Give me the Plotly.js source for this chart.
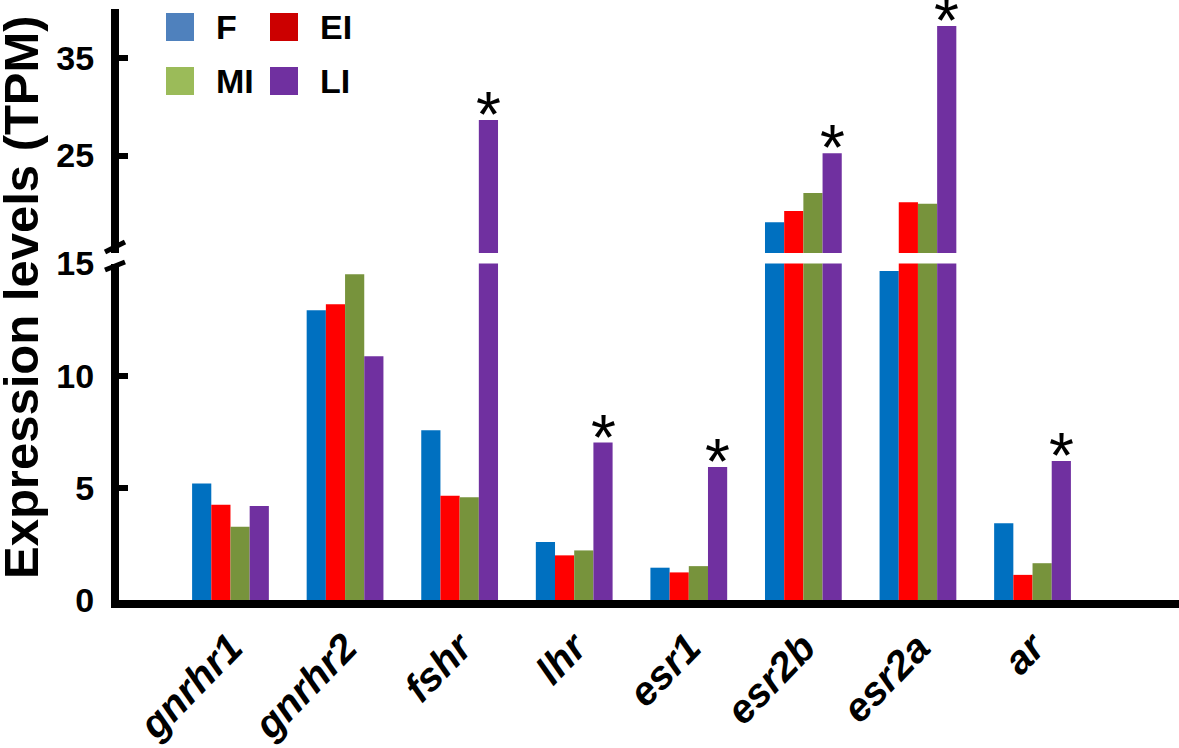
<!DOCTYPE html>
<html>
<head>
<meta charset="utf-8">
<script src="https://cdn.plot.ly/plotly-3.0.1.min.js"></script>
<style>html,body{margin:0;padding:0;background:#fff;}#chart{width:1179px;height:748px;}</style>
</head>
<body>
<div id="chart"></div>
<script>
// ---- data ----
const genes = ['gnrhr1', 'gnrhr2', 'fshr', 'lhr', 'esr1', 'esr2b', 'esr2a', 'ar'];
const seriesNames = ['F', 'EI', 'MI', 'LI'];
const valuesF  = [5.19, 12.92, 7.57, 2.58, 1.44, 18.15, 14.67, 3.42];
const valuesEI = [4.25, 13.18, 4.65, 1.99, 1.23, 19.31, 20.20, 1.12];
const valuesMI = [3.27, 14.52, 4.58, 2.21, 1.51, 21.15, 20.06, 1.64];
const valuesLI = [4.19, 10.87, 28.64, 7.02, 5.93, 25.23, 38.28, 6.20];
const significantLI = [false, false, true, true, true, true, true, true];
const lowerTicks = [0, 5, 10, 15];
const upperTicks = [25, 35];

// ---- styles ----
const barColors = ['#0070C0', '#FF0000', '#77933C', '#7030A0'];
const legendColors = ['#4F81BD', '#CC0000', '#9BBB59', '#7030A0'];
const FONT = 'Arial, "Liberation Sans", sans-serif';
const BREAK = 15, UPPER_MAX = 40.03;
const W = 1179, H = 748;
const M = {l: 119, r: 0, t: 9, b: 148};
const PW = W - M.l - M.r, PH = H - M.t - M.b;
const px = x => (x - M.l) / PW;           // pixel -> paper x
const py = y => (H - M.b - y) / PH;       // pixel -> paper y
const BARGAP = 0.33;

const allValues = [valuesF, valuesEI, valuesMI, valuesLI];
const traces = [];
allValues.forEach((vals, i) => {
  ['y', 'y2'].forEach(ax => {
    traces.push({
      type: 'bar', x: genes, y: vals, name: seriesNames[i],
      xaxis: 'x', yaxis: ax, showlegend: false, hoverinfo: 'x+y+name',
      marker: {color: barColors[i], line: {width: 0}}
    });
  });
});

// asterisks above LI bars
const groupW = 1 - BARGAP, barW = groupW / 4;
const annotations = [];
genes.forEach((g, i) => {
  if (!significantLI[i]) return;
  const v = valuesLI[i];
  annotations.push({
    x: i + 1.5 * barW, y: v, xref: 'x', yref: v > BREAK ? 'y2' : 'y',
    text: '*', showarrow: false, xanchor: 'center', yanchor: 'bottom',
    yshift: -33, font: {family: FONT, size: 64, color: '#000'}
  });
});

// y axis title
annotations.push({
  xref: 'paper', yref: 'paper', x: px(21), y: py(297), text: 'Expression levels (TPM)',
  textangle: -90, showarrow: false, xanchor: 'center', yanchor: 'middle',
  font: {family: FONT, size: 49, weight: 'bold', color: '#000'}
});

// custom legend (2 x 2)
const shapes = [];
const legPos = [[166, 13], [270, 13], [166, 67], [270, 67]];
seriesNames.forEach((n, i) => {
  const [lx, ly] = legPos[i];
  shapes.push({type: 'rect', xref: 'paper', yref: 'paper',
    x0: px(lx), x1: px(lx + 28), y0: py(ly + 28), y1: py(ly),
    fillcolor: legendColors[i], line: {width: 0}});
  annotations.push({xref: 'paper', yref: 'paper', x: px(lx + 48), y: py(ly + 14),
    text: n, showarrow: false, xanchor: 'left', yanchor: 'middle',
    font: {family: FONT, size: 34, weight: 'bold', color: '#000'}});
});

// axis break marks
shapes.push({type: 'line', xref: 'paper', yref: 'paper', x0: px(105), y0: py(252), x1: px(125), y1: py(242), line: {color: '#000', width: 5}});
shapes.push({type: 'line', xref: 'paper', yref: 'paper', x0: px(105), y0: py(270), x1: px(125), y1: py(262), line: {color: '#000', width: 5}});

const lowerTop = py(263.5), upperBottom = py(253);
const yCommon = {
  showline: true, linewidth: 8, linecolor: '#000', showgrid: false, zeroline: false,
  ticks: 'inside', ticklen: 9, tickwidth: 6, tickcolor: '#000',
  tickfont: {family: FONT, size: 34, weight: 'bold', color: '#000'},
  ticklabelstandoff: 10, tickmode: 'array', fixedrange: true
};

const layout = {
  width: W, height: H, margin: M, paper_bgcolor: '#fff', plot_bgcolor: 'rgba(0,0,0,0)',
  barmode: 'group', bargap: BARGAP, bargroupgap: 0, showlegend: false,
  xaxis: {
    type: 'category', anchor: 'y', range: [-(230.5 - M.l) / 114.6, 7 + (W - 1032.5) / 114.6],
    showline: true, linewidth: 8, linecolor: '#000', showgrid: false, ticks: '',
    tickangle: -46, ticklabelstandoff: 0,
    tickfont: {family: FONT, size: 40, weight: 'bold', style: 'italic', color: '#000'}
  },
  yaxis: Object.assign({}, yCommon, {domain: [0, lowerTop], range: [0, BREAK], tickvals: lowerTicks, anchor: 'x'}),
  yaxis2: Object.assign({}, yCommon, {domain: [upperBottom, 1], range: [BREAK, UPPER_MAX], tickvals: upperTicks, anchor: 'x'}),
  shapes: shapes, annotations: annotations
};

Plotly.newPlot('chart', traces, layout, {displayModeBar: false, staticPlot: true});
</script>
</body>
</html>
